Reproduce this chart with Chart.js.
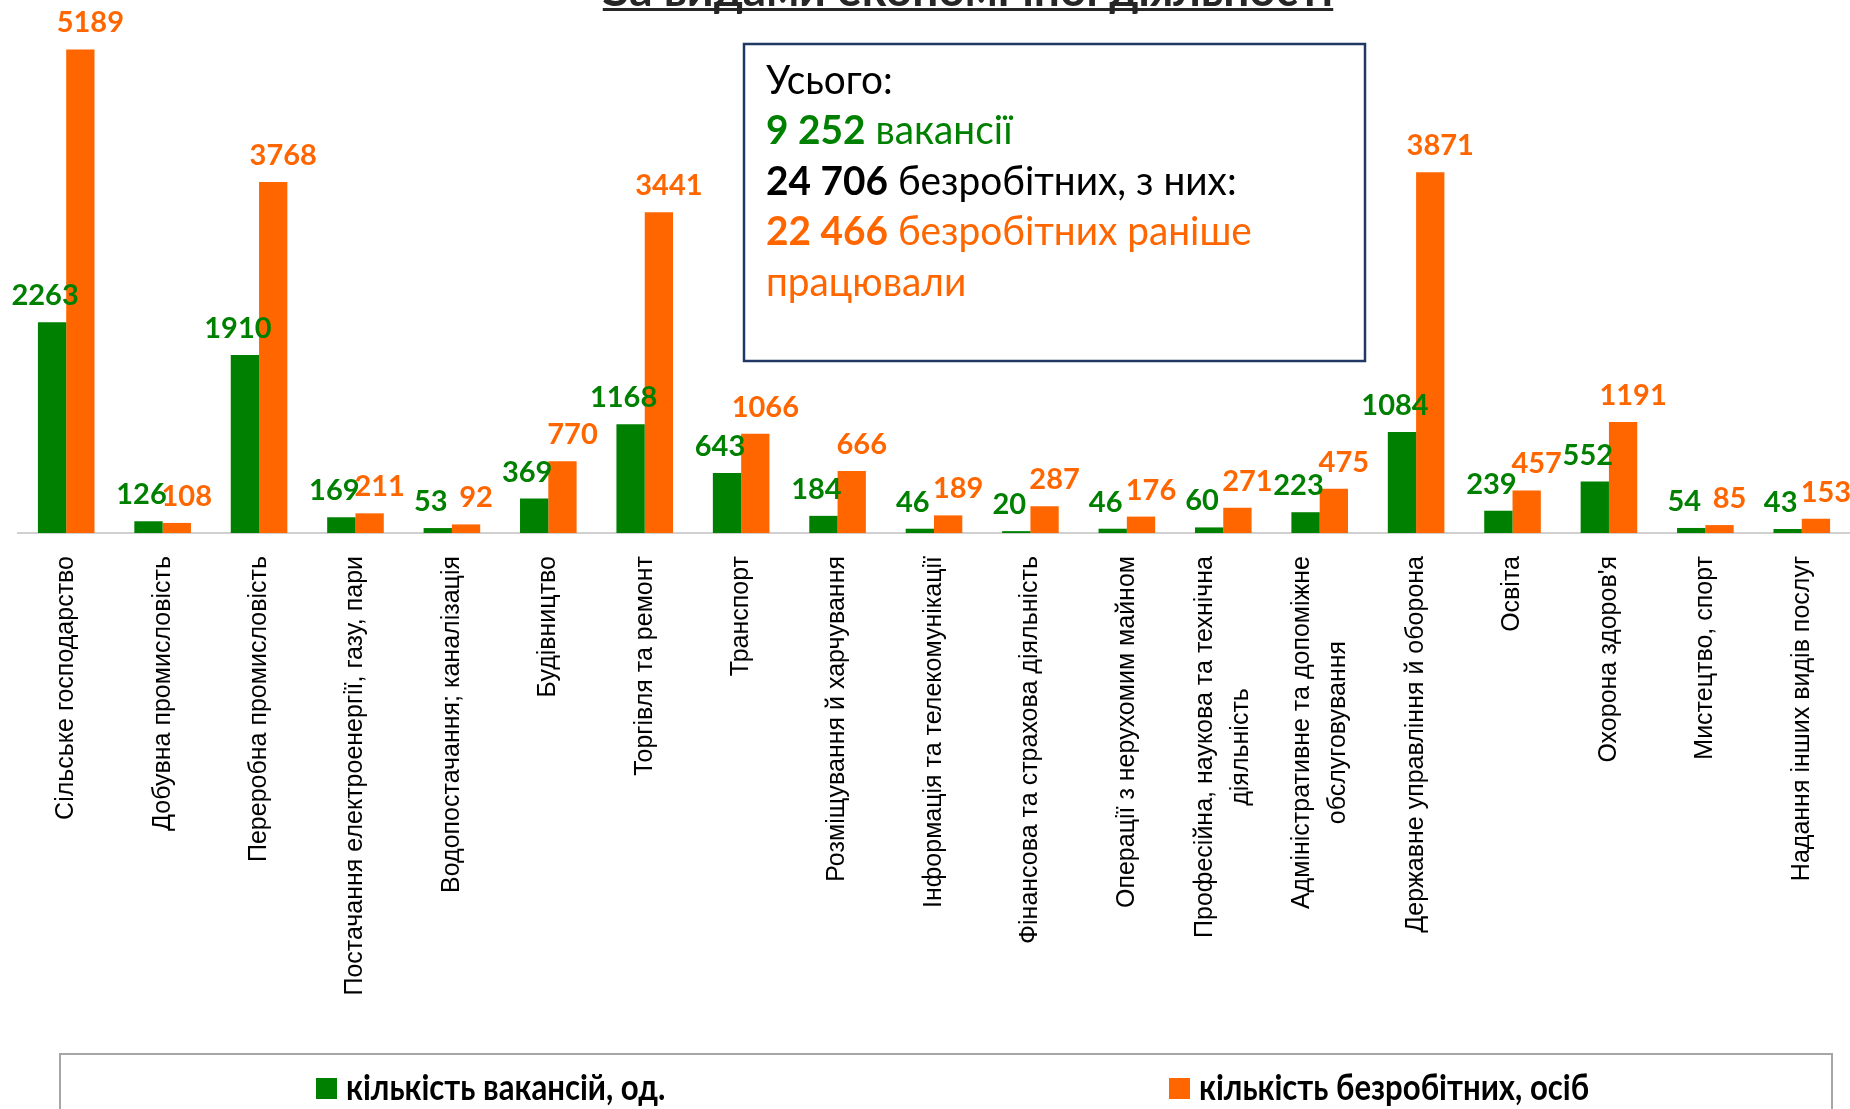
<!DOCTYPE html>
<html>
<head>
<meta charset="utf-8">
<script src="https://cdn.jsdelivr.net/npm/chart.js@4.4.1/dist/chart.umd.min.js"></script>
<style>
  html, body { margin: 0; padding: 0; background: #fff; }
  #wrap { width: 1850px; height: 1109px; position: relative; }
</style>
</head>
<body>
<div id="wrap"><canvas id="chart"></canvas></div>
<script>
const categories = [
  "Сільське господарство",
  "Добувна промисловість",
  "Переробна промисловість",
  "Постачання електроенергії, газу, пари",
  "Водопостачання; каналізація",
  "Будівництво",
  "Торгівля та ремонт",
  "Транспорт",
  "Розміщування й харчування",
  "Інформація та телекомунікації",
  "Фінансова та страхова діяльність",
  "Операції з нерухомим майном",
  ["Професійна, наукова та технічна", "діяльність"],
  ["Адміністративне та допоміжне", "обслуговування"],
  "Державне управління й оборона",
  "Освіта",
  "Охорона здоров'я",
  "Мистецтво, спорт",
  "Надання інших видів послуг"
]
const vacancies = [2263, 126, 1910, 169, 53, 369, 1168, 643, 184, 46, 20, 46, 60, 223, 1084, 239, 552, 54, 43]
const unemployed = [5189, 108, 3768, 211, 92, 770, 3441, 1066, 666, 189, 287, 176, 271, 475, 3871, 457, 1191, 85, 153]

const seriesNames = ["кількість вакансій, од.", "кількість безробітних, осіб"]
const title = "За видами економічної діяльності"
const summaryLines = [
  [{ text: "Усього:", color: "#000000" }],
  [{ text: "9 252", color: "#008000", bold: true }, { text: " вакансії", color: "#008000" }],
  [{ text: "24 706", color: "#000000", bold: true }, { text: " безробітних, з них:", color: "#000000" }],
  [{ text: "22 466", color: "#ff6600", bold: true }, { text: " безробітних раніше", color: "#ff6600" }],
  [{ text: "працювали", color: "#ff6600" }]
]

const GREEN = "#008000"
const ORANGE = "#ff6600"

// everything around the plot (title, box, axis labels, legend) is painted here
const decorations = {
  id: "decorations",
  afterDatasetsDraw(chart) {
    const ctx = chart.ctx
    const x = chart.scales.x

    // value labels above bars
    ctx.save()
    ctx.font = "bold 29px Lato"
    ctx.textAlign = "center"
    ctx.textBaseline = "alphabetic"
    const shifts = [-7, 10]
    chart.data.datasets.forEach((ds, d) => {
      ctx.fillStyle = ds.backgroundColor
      chart.getDatasetMeta(d).data.forEach((bar, i) => {
        ctx.fillText(String(ds.data[i]), bar.x + shifts[d], bar.y - 17)
      })
    })
    ctx.restore()

    // rotated category labels
    ctx.save()
    ctx.font = "25px 'Liberation Sans'"
    ctx.fillStyle = "#000"
    ctx.textAlign = "center"
    ctx.textBaseline = "middle"
    const top = chart.chartArea.bottom + 23
    categories.forEach((label, i) => {
      const lines = Array.isArray(label) ? label : [label]
      const maxW = Math.max(...lines.map(l => ctx.measureText(l).width))
      ctx.save()
      ctx.translate(x.getPixelForValue(i), top)
      ctx.rotate(-Math.PI / 2)
      lines.forEach((l, j) => {
        ctx.fillText(l, -maxW / 2, (j - (lines.length - 1) / 2) * 36)
      })
      ctx.restore()
    })
    ctx.restore()

    // title, mostly cut off by the top edge
    ctx.save()
    ctx.font = "bold 46px Lato"
    ctx.fillStyle = "#262626"
    ctx.textAlign = "center"
    ctx.textBaseline = "alphabetic"
    const tw = ctx.measureText(title).width
    ctx.fillText(title, 968, 6)
    ctx.fillRect(968 - tw / 2, 8, tw, 3)
    ctx.restore()

    // summary box
    ctx.save()
    ctx.strokeStyle = "#1f3864"
    ctx.lineWidth = 2.5
    ctx.fillStyle = "#fff"
    ctx.fillRect(744, 44, 621, 317)
    ctx.strokeRect(744, 44, 621, 317)
    ctx.textBaseline = "alphabetic"
    ctx.textAlign = "left"
    summaryLines.forEach((parts, r) => {
      let cx = 0
      ctx.save()
      ctx.translate(766, 94 + r * 50.4)
      ctx.scale(0.97, 1)
      parts.forEach(p => {
        ctx.font = (p.bold ? "bold " : "") + "40px Lato"
        ctx.fillStyle = p.color
        ctx.fillText(p.text, cx, 0)
        cx += ctx.measureText(p.text).width
      })
      ctx.restore()
    })
    ctx.restore()

    // legend frame and items
    ctx.save()
    ctx.strokeStyle = "#a6a6a6"
    ctx.lineWidth = 2
    ctx.strokeRect(60, 1054, 1772, 80)
    const items = [[316, GREEN], [1169, ORANGE]]
    ctx.textBaseline = "alphabetic"
    ctx.textAlign = "left"
    items.forEach(([lx, color], k) => {
      ctx.fillStyle = color
      ctx.fillRect(lx, 1078, 21, 21)
      ctx.save()
      ctx.translate(lx + 30, 1100)
      ctx.scale(0.865, 1)
      ctx.font = "bold 36px Lato"
      ctx.fillStyle = "#000"
      ctx.fillText(seriesNames[k], 0, 0)
      ctx.restore()
    })
    ctx.restore()
  }
}

new Chart(document.getElementById("chart"), {
  type: "bar",
  data: {
    labels: categories,
    datasets: [
      { label: seriesNames[0], data: vacancies, backgroundColor: GREEN },
      { label: seriesNames[1], data: unemployed, backgroundColor: ORANGE }
    ]
  },
  options: {
    responsive: true,
    maintainAspectRatio: false,
    animation: false,
    layout: { padding: { left: 18, right: 0, top: 0, bottom: 576 } },
    datasets: { bar: { categoryPercentage: 0.587, barPercentage: 1 } },
    scales: {
      x: {
        grid: { display: false, drawTicks: false },
        border: { display: true, color: "#d0d0d0", width: 2 },
        ticks: { display: false }
      },
      y: { display: false, min: 0, max: 5720 }
    },
    plugins: {
      legend: { display: false },
      tooltip: { enabled: false }
    }
  },
  plugins: [decorations]
})
</script>
</body>
</html>
